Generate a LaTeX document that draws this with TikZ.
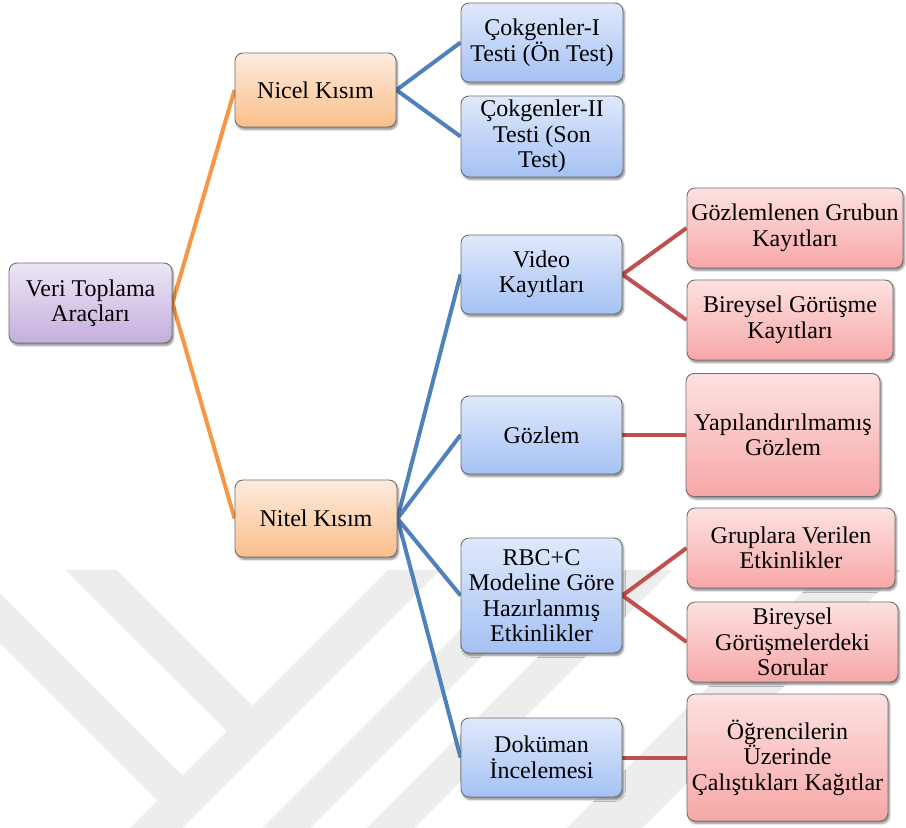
\documentclass[tikz,border=0pt]{standalone}
\usepackage{fontspec}
\setmainfont{Liberation Serif}
\usetikzlibrary{shadows.blur}

\pgfdeclarelayer{under}
\pgfsetlayers{under,main}

\definecolor{wmgray}{HTML}{EDEDED}
\definecolor{boxedge}{HTML}{6F6F6F}
\definecolor{purpletop}{HTML}{EDE6F6}
\definecolor{purplebot}{HTML}{C4AEDD}
\definecolor{orangetop}{HTML}{FDEBDD}
\definecolor{orangebot}{HTML}{FABF8C}
\definecolor{bluetop}{HTML}{E0E9FB}
\definecolor{bluebot}{HTML}{A4C1F4}
\definecolor{redtop}{HTML}{FDE1E1}
\definecolor{redbot}{HTML}{F7A7A7}
\definecolor{oline}{HTML}{F79646}
\definecolor{bline}{HTML}{4F81BD}
\definecolor{rline}{HTML}{C0504D}

\tikzset{
  box/.style={draw=boxedge, line width=0.9pt, rounded corners=8pt,
    align=center, inner sep=2pt,
    font=\fontsize{24}{25.5}\selectfont,
    blur shadow={shadow xshift=1.5pt, shadow yshift=-2.5pt,
      shadow opacity=45, shadow blur steps=6}},
  rootbox/.style={box, top color=purpletop, bottom color=purplebot},
  midbox/.style={box, top color=orangetop, bottom color=orangebot},
  leafbox/.style={box, top color=bluetop, bottom color=bluebot},
  endbox/.style={box, top color=redtop, bottom color=redbot},
  sz/.style 2 args={minimum width=#1pt, minimum height=#2pt},
  orangelink/.style={draw=oline, line width=4pt},
  bluelink/.style={draw=bline, line width=4pt},
  redlink/.style={draw=rline, line width=4pt},
  wmpart/.style={fill=wmgray, draw=none},
}

\begin{document}
\begin{tikzpicture}[x=1pt, y=-1pt]
\useasboundingbox (0,0) rectangle (906,828);

% root
\node[rootbox, sz={163}{80}] (veri) at (90.5,303) {Veri Toplama\\Araçları};

% second level
\node[midbox, sz={161}{74}] (nicel) at (315.5,90) {Nicel Kısım};
\node[midbox, sz={162}{77}] (nitel) at (316,518.5) {Nitel Kısım};

% third level
\node[leafbox, sz={162}{79}] (c1) at (542,42.5) {Çokgenler-I\\Testi (Ön Test)};
\node[leafbox, sz={162}{81}] (c2) at (542,136.5) {Çokgenler-II\\Testi (Son\\Test)};
\node[leafbox, sz={161}{79}] (video) at (541.5,274.5) {Video\\Kayıtları};
\node[leafbox, sz={161}{78}] (gozlem) at (541.5,435) {Gözlem};
\node[leafbox, sz={161}{115}] (rbc) at (541.5,595.5) {RBC+C\\Modeline Göre\\Hazırlanmış\\Etkinlikler};
\node[leafbox, sz={161}{79}] (dok) at (541.5,757.5) {Doküman\\İncelemesi};

% fourth level
\node[endbox, sz={216}{80}] (g1) at (795,228) {Gözlemlenen Grubun\\Kayıtları};
\node[endbox, sz={206}{80}] (g2) at (790,320) {Bireysel Görüşme\\Kayıtları};
\node[endbox, sz={194}{123}] (yap) at (783,435) {Yapılandırılmamış\\Gözlem};
\node[endbox, sz={208}{80}] (grp) at (791,548) {Gruplara Verilen\\Etkinlikler};
\node[endbox, sz={211}{80}] (bgs) at (792.5,642) {Bireysel\\Görüşmelerdeki\\Sorular};
\node[endbox, sz={201}{127}] (ogr) at (787.5,757.5) {Öğrencilerin\\Üzerinde\\Çalıştıkları Kağıtlar};

% everything behind the boxes: the faint logo bands, then the connectors
\begin{pgfonlayer}{under}
  \fill[wmpart] (388,570) -- (440,570) -- (182,828) -- (130,828) -- cycle;
  \fill[wmpart] (65,570) -- (117,570) -- (265,718) -- (240,744) -- cycle;
  \fill[wmpart] (0,593) -- (200,793) -- (175,818) -- (0,643) -- cycle;
  \fill[wmpart] (520,570) -- (568,570) -- (310,828) -- (262,828) -- cycle;
  \fill[wmpart] (625,570) -- (672,570) -- (414,828) -- (367,828) -- cycle;
  \fill[wmpart] (825,570) -- (900,570) -- (642,828) -- (567,828) -- cycle;

  \draw[orangelink] (nicel.west) -- (veri.east) -- (nitel.west);
  \draw[bluelink] (c1.west) -- (nicel.east) -- (c2.west);
  \draw[bluelink] (nitel.east) -- (video.west);
  \draw[bluelink] (nitel.east) -- (gozlem.west);
  \draw[bluelink] (nitel.east) -- (rbc.west);
  \draw[bluelink] (nitel.east) -- (dok.west);
  \draw[redlink] (g1.west) -- (video.east) -- (g2.west);
  \draw[redlink] (gozlem.east) -- (yap.west);
  \draw[redlink] (grp.west) -- (rbc.east) -- (bgs.west);
  \draw[redlink] (dok.east) -- (ogr.west);
\end{pgfonlayer}
\end{tikzpicture}
\end{document}
